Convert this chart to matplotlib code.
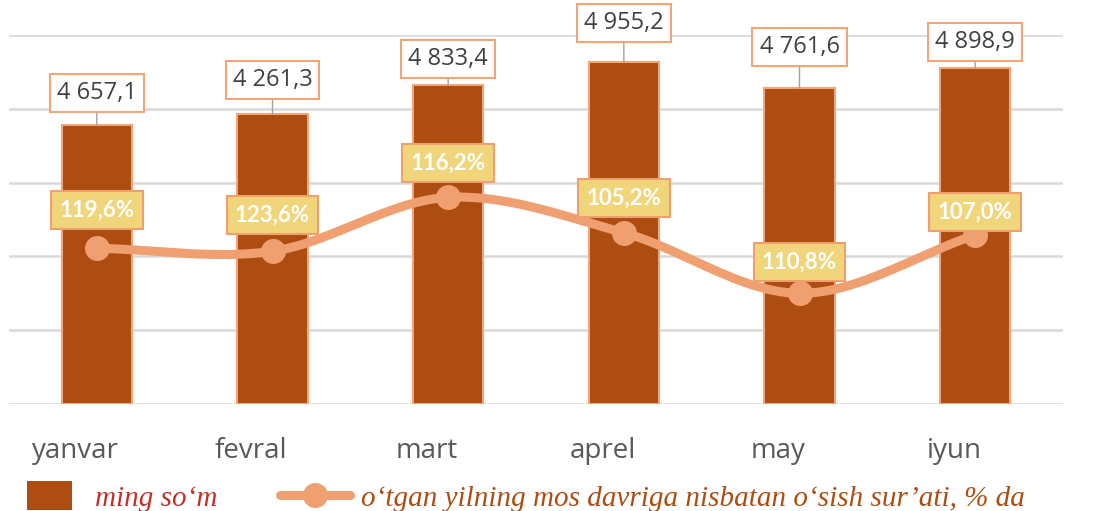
import numpy as np
import matplotlib.pyplot as plt
from matplotlib.patches import Rectangle
from matplotlib.lines import Line2D

# months and labels as printed
months = ["yanvar", "fevral", "mart", "aprel", "may", "iyun"]
value_labels = ["4 657,1", "4 261,3", "4 833,4", "4 955,2", "4 761,6", "4 898,9"]
pct_labels = ["119,6%", "123,6%", "116,2%", "105,2%", "110,8%", "107,0%"]

# heights as drawn in the picture (grid step = 1)
bar_heights = [3.78, 3.93, 4.32, 4.63, 4.28, 4.55]
line_levels = [2.11, 2.07, 2.80, 2.32, 1.50, 2.29]

# label offsets above bar top / line point (pixels)
value_offsets = [32, 34, 26, 39, 41, 26]
pct_offsets = [38, 36, 34, 35, 31, 23]

bar_color = "#AE4D12"
edge_color = "#F4A575"
line_color = "#F0A070"
pct_face = "#F1D57A"

W, H = 1116, 511
fig = plt.figure(figsize=(W / 100, H / 100), dpi=100)
ax = fig.add_axes([9 / W, 1 - 404 / H, 1054 / W, 369 / H])

x = np.arange(len(months))
ax.bar(x, bar_heights, width=0.4, color=bar_color, edgecolor=edge_color,
       linewidth=1.5, zorder=2)


def catmull(xs, ys, n=30):
    px = np.concatenate([[2 * xs[0] - xs[1]], xs, [2 * xs[-1] - xs[-2]]])
    py = np.concatenate([[2 * ys[0] - ys[1]], ys, [2 * ys[-1] - ys[-2]]])
    ox, oy = [], []
    t = np.linspace(0, 1, n)
    for i in range(1, len(px) - 2):
        for p, o in ((px, ox), (py, oy)):
            p0, p1, p2, p3 = p[i - 1], p[i], p[i + 1], p[i + 2]
            o.extend(0.5 * (2 * p1 + (-p0 + p2) * t
                            + (2 * p0 - 5 * p1 + 4 * p2 - p3) * t ** 2
                            + (-p0 + 3 * p1 - 3 * p2 + p3) * t ** 3))
    return ox, oy


sx, sy = catmull(x.astype(float), np.array(line_levels, dtype=float))
ax.plot(sx, sy, color=line_color, lw=6.5, solid_capstyle="round", zorder=3)
ax.plot(x, line_levels, "o", color=line_color, ms=17, zorder=4)

for i in range(len(months)):
    ax.annotate(value_labels[i], xy=(x[i], bar_heights[i]),
                xytext=(0, value_offsets[i] * 0.72), textcoords="offset points",
                ha="center", va="center", fontsize=17, family="Open Sans",
                color="#404040", annotation_clip=False, zorder=5,
                bbox=dict(boxstyle="square,pad=0.3", fc="white", ec=edge_color, lw=1.5),
                arrowprops=dict(arrowstyle="-", color="#A0A0A0", lw=1,
                                shrinkA=0, shrinkB=0))
    ax.annotate(pct_labels[i], xy=(x[i], line_levels[i]),
                xytext=(0, pct_offsets[i] * 0.72), textcoords="offset points",
                ha="center", va="center", fontsize=16, fontweight="bold",
                family="Lato", color="white", zorder=6,
                bbox=dict(boxstyle="square,pad=0.38", fc=pct_face, ec=line_color, lw=1.5))

ax.set_xlim(-0.5, len(months) - 0.5)
ax.set_ylim(0, 5)
ax.set_yticks(range(6))
ax.yaxis.grid(True, color="#D9D9D9", lw=1.8, zorder=0)
ax.set_axisbelow(True)
ax.tick_params(left=False, labelleft=False, bottom=False)
ax.set_xticks(x - 0.12)
ax.set_xticklabels(months, fontsize=20, family="Open Sans", color="#595959")
ax.tick_params(axis="x", pad=20)
for s in ax.spines.values():
    s.set_visible(False)

# legend drawn by hand at the bottom
tf = fig.transFigure
fig.add_artist(Rectangle((27 / W, 1 - 510 / H), 45 / W, 29 / H, transform=tf,
                         fc=bar_color, ec="none"))
fig.text(95 / W, 1 - 506 / H, "ming so\u2018m", transform=tf, fontsize=21,
         style="italic", family="Liberation Serif", color="#C2302A")
fig.add_artist(Line2D([280 / W, 350 / W], [1 - 495 / H, 1 - 495 / H], transform=tf,
                      color=line_color, lw=6.5, solid_capstyle="round"))
fig.add_artist(Line2D([315 / W], [1 - 495 / H], transform=tf, marker="o",
                      ms=17, color=line_color))
fig.text(361 / W, 1 - 506 / H,
         "o\u2018tgan yilning mos davriga nisbatan o\u2018sish sur\u2019ati, % da",
         transform=tf, fontsize=21, style="italic", family="Liberation Serif",
         color=bar_color)

fig.savefig("out.png", dpi=100)
